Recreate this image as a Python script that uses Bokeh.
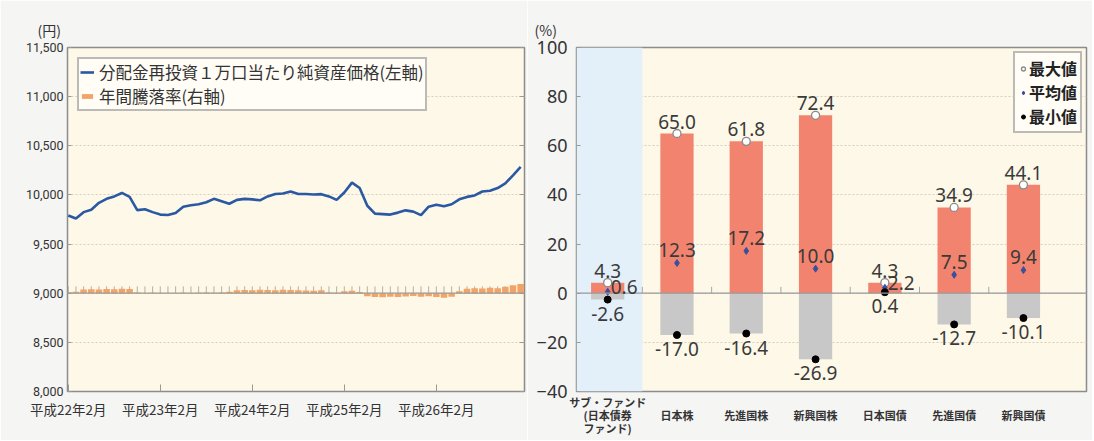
from bokeh.plotting import figure
from bokeh.models import (Range1d, LinearAxis, FixedTicker, Span, BoxAnnotation,
                          Legend, LegendItem, ColumnDataSource, LabelSet, NumeralTickFormatter)
from bokeh.layouts import row
from bokeh.embed import file_html
from bokeh.resources import INLINE
from bokeh.core.properties import value

# ---------------- data ----------------
months = list(range(60))
month_tick_labels = {0: "平成22年2月", 12: "平成23年2月", 24: "平成24年2月",
                     36: "平成25年2月", 48: "平成26年2月"}
nav = [9790, 9760, 9825, 9850, 9920, 9960, 9985, 10020, 9980, 9845,
       9855, 9825, 9800, 9795, 9815, 9880, 9895, 9905, 9925, 9960,
       9935, 9910, 9950, 9960, 9955, 9945, 9985, 10010, 10015, 10035,
       10010, 10010, 10005, 10008, 9985, 9950, 10025, 10125, 10070, 9890,
       9810, 9805, 9800, 9820, 9843, 9830, 9795, 9880, 9900, 9885,
       9905, 9955, 9980, 9995, 10035, 10043, 10070, 10117, 10200, 10285]
annual_ret = [0.4, 0.6, 1.5, 1.6, 1.5, 1.7, 1.6, 1.8, 1.7, 0.3,
              0.1, 0.2, 0.1, -0.1, 0.1, 0.2, 0.1, 0.2, 0.3, 0.2,
              0.3, 0.6, 1.2, 1.3, 1.2, 1.4, 1.3, 1.2, 1.4, 1.3,
              1.2, 1.1, 1.0, 1.2, 0.3, 0.2, 0.8, 1.0, 0.5, -1.2,
              -1.5, -1.6, -1.4, -1.5, -1.3, -1.1, -1.4, -1.2, -1.5, -1.8,
              -1.4, 0.8, 1.8, 2.0, 1.9, 2.2, 2.0, 2.6, 3.2, 3.8]
yen_ticks = [8000, 8500, 9000, 9500, 10000, 10500, 11000, 11500]
pct_ticks = [-40, -20, 0, 20, 40, 60, 80, 100]

# category names, one list per label line
categories = ["サブ・ファンド(日本債券ファンド)", "日本株", "先進国株", "新興国株",
              "日本国債", "先進国債", "新興国債"]
cat_line1 = ["サブ・ファンド", "", "", "", "", "", ""]
cat_line2 = ["(日本債券", "日本株", "先進国株", "新興国株", "日本国債", "先進国債", "新興国債"]
cat_line3 = ["ファンド)", "", "", "", "", "", ""]
max_vals = [4.3, 65.0, 61.8, 72.4, 4.3, 34.9, 44.1]
mean_vals = [0.6, 12.3, 17.2, 10.0, 2.2, 7.5, 9.4]
min_vals = [-2.6, -17.0, -16.4, -26.9, 0.4, -12.7, -10.1]

# ---------------- styles ----------------
BG = "#f5f5f3"
PLOT_BG = "#fdf8e7"
FRAME = "#8c8c8c"
GRID = "#d8cfbb"
TXT = "#333333"
JP = "Noto Sans CJK JP"
NUM = "Noto Sans"
H = 440
TOP = 47
BOTTOM = 49

# ---------------- left chart ----------------
p1 = figure(width=527, height=H, x_range=Range1d(-0.1, 59.5), y_range=Range1d(8000, 11500),
            output_backend="svg", toolbar_location=None,
            min_border_left=67, min_border_right=3, min_border_top=TOP, min_border_bottom=BOTTOM,
            background_fill_color=PLOT_BG, border_fill_color=BG,
            outline_line_color=FRAME, outline_line_width=1.5)
p1.extra_y_ranges = {"pct": Range1d(-40, 100)}
p1.xgrid.visible = False
p1.ygrid.ticker = FixedTicker(ticks=yen_ticks)
p1.ygrid.grid_line_color = GRID
p1.ygrid.grid_line_dash = "2 2"

p1.yaxis.ticker = FixedTicker(ticks=yen_ticks)
p1.yaxis.formatter = NumeralTickFormatter(format="0,0")
p1.yaxis.major_label_text_font = "Roboto"
p1.yaxis.major_label_text_font_size = "12.5px"
p1.yaxis.major_label_text_color = TXT
p1.yaxis.major_tick_in = 4
p1.yaxis.major_tick_out = 0
p1.yaxis.minor_tick_line_color = None
p1.yaxis.axis_line_color = None
p1.yaxis.major_tick_line_color = "#999999"
p1.yaxis.major_label_standoff = 4

p1.xaxis.ticker = FixedTicker(ticks=list(month_tick_labels.keys()))
p1.xaxis.major_label_overrides = month_tick_labels
p1.xaxis.major_label_text_font = JP
p1.xaxis.major_label_text_font_size = "13.5px"
p1.xaxis.major_label_text_color = TXT
p1.xaxis.major_tick_in = 7
p1.xaxis.major_tick_out = 0
p1.xaxis.major_tick_line_color = "#999999"
p1.xaxis.minor_tick_line_color = None
p1.xaxis.minor_tick_out = 0
p1.xaxis.axis_line_color = None
p1.xaxis.major_label_standoff = 7

rax = LinearAxis(y_range_name="pct", ticker=FixedTicker(ticks=pct_ticks),
                 major_label_overrides={t: "" for t in pct_ticks},
                 major_tick_in=5, major_tick_out=0, major_tick_line_color="#999999",
                 minor_tick_line_color=None, minor_tick_out=0,
                 axis_line_color=None, major_label_standoff=0)
p1.add_layout(rax, "right")

p1.add_layout(Span(location=0, dimension="width", y_range_name="pct",
                   line_color="#9a9a9a", line_width=1.3))
p1.segment(x0=months, x1=months, y0=[0] * len(months), y1=[2.8] * len(months),
           y_range_name="pct", line_color="#b8b0a0", line_width=1)
bars = p1.vbar(x=months, top=annual_ret, bottom=0, width=0.85, y_range_name="pct",
               fill_color="#f2a468", line_color=None)
nav_line = p1.line(months, nav, line_color="#2a58a2", line_width=2.6)

leg1 = Legend(items=[LegendItem(label="分配金再投資１万口当たり純資産価格(左軸)", renderers=[nav_line]),
                     LegendItem(label="年間騰落率(右軸)", renderers=[bars])],
              location="top_left", margin=10, padding=1, spacing=-3,
              label_text_font=JP, label_text_font_size="16.5px", label_text_color=TXT,
              label_height=18, glyph_height=6, glyph_width=14, label_standoff=5,
              border_line_color="#777777", border_line_width=2,
              background_fill_color="#fffdf6", background_fill_alpha=1)
p1.add_layout(leg1, "center")

p1.title.text = "(円)"
p1.title.align = "left"
p1.title.offset = -30
p1.title.text_font = JP
p1.title.text_font_size = "14px"
p1.title.text_font_style = "normal"
p1.title.text_color = TXT
p1.title.standoff = 16

# ---------------- right chart ----------------
xs = list(range(len(categories)))
p2 = figure(width=565, height=H, x_range=Range1d(-0.45, 6.91), y_range=Range1d(-40, 100),
            output_backend="svg", toolbar_location=None,
            min_border_left=49, min_border_right=6, min_border_top=TOP, min_border_bottom=BOTTOM,
            background_fill_color=PLOT_BG, border_fill_color=BG,
            outline_line_color=FRAME, outline_line_width=1.5)
p2.xgrid.visible = False
p2.add_layout(BoxAnnotation(right=0.5, fill_color="#e3f0fa", fill_alpha=1,
                            line_color=None, level="underlay"))
p2.ygrid.ticker = FixedTicker(ticks=pct_ticks)
p2.ygrid.grid_line_color = GRID
p2.ygrid.grid_line_dash = "2 2"
p2.ygrid.level = "underlay"

p2.yaxis.ticker = FixedTicker(ticks=pct_ticks)
p2.yaxis.major_label_text_font = NUM
p2.yaxis.major_label_text_font_size = "18px"
p2.yaxis.major_label_text_color = TXT
p2.yaxis.major_tick_in = 4
p2.yaxis.major_tick_out = 0
p2.yaxis.major_tick_line_color = "#999999"
p2.yaxis.minor_tick_line_color = None
p2.yaxis.minor_tick_out = 0
p2.yaxis.axis_line_color = None
p2.yaxis.major_label_standoff = 9


def style_cat_axis(ax, labels, standoff):
    ax.ticker = FixedTicker(ticks=xs)
    ax.major_label_overrides = {i: c for i, c in zip(xs, labels)}
    ax.major_label_text_font = JP
    ax.major_label_text_font_size = "11px"
    ax.major_label_text_color = TXT
    ax.major_label_text_font_style = "bold"
    ax.major_tick_line_color = None
    ax.major_tick_in = 0
    ax.major_tick_out = 0
    ax.minor_tick_line_color = None
    ax.minor_tick_in = 0
    ax.minor_tick_out = 0
    ax.axis_line_color = None
    ax.major_label_standoff = standoff


style_cat_axis(p2.xaxis[0], cat_line1, 2)
ax2 = LinearAxis()
style_cat_axis(ax2, cat_line2, -6)
p2.add_layout(ax2, "below")
ax3 = LinearAxis()
style_cat_axis(ax3, cat_line3, -6)
p2.add_layout(ax3, "below")

p2.title.text = "(%)"
p2.title.align = "left"
p2.title.offset = -42
p2.title.text_font = JP
p2.title.text_font_size = "14px"
p2.title.text_font_style = "normal"
p2.title.text_color = TXT
p2.title.standoff = 16

p2.add_layout(Span(location=0, dimension="width", line_color="#9a9a9a", line_width=1.3))
bounds = [i + 0.5 for i in xs[:-1]]
p2.segment(x0=bounds, x1=bounds, y0=[0] * len(bounds), y1=[2.6] * len(bounds),
           line_color="#a8a8a8", line_width=1)

p2.vbar(x=xs, top=0, bottom=min_vals, width=0.48, fill_color="#c8c8c8", line_color=None)
p2.vbar(x=xs, top=max_vals, bottom=0, width=0.48, fill_color="#f2846f", line_color=None)

r_max = p2.scatter(xs, max_vals, marker="circle", size=8, fill_color="white",
                   line_color="#8a8a8a", line_width=1.3)
r_mean = p2.scatter(xs, mean_vals, marker="diamond", size=7, fill_color="#3a4f9e",
                    line_color="#3a4f9e")
r_min = p2.scatter(xs, min_vals, marker="circle", size=7, fill_color="black", line_color="black")

src = ColumnDataSource(dict(x=xs, mx=max_vals, mn=min_vals,
                            mxt=[f"{v:.1f}" for v in max_vals],
                            mnt=[f"{v:.1f}" for v in min_vals]))
near = [i for i in xs if max_vals[i] - mean_vals[i] < 6]
far = [i for i in xs if i not in near]
src_far = ColumnDataSource(dict(x=far, y=[mean_vals[i] for i in far],
                                t=[f"{mean_vals[i]:.1f}" for i in far]))
src_near = ColumnDataSource(dict(x=near, y=[mean_vals[i] for i in near],
                                 t=[f"{mean_vals[i]:.1f}" for i in near]))
lbl_kw = dict(text_font=value(NUM), text_font_size=value("19px"), text_color=value("#3a3a3a"))
p2.add_layout(LabelSet(x="x", y="mx", text="mxt", source=src, text_align="center",
                       text_baseline="bottom", y_offset=5, **lbl_kw))
p2.add_layout(LabelSet(x="x", y="mn", text="mnt", source=src, text_align="center",
                       text_baseline="top", y_offset=-7, **lbl_kw))
p2.add_layout(LabelSet(x="x", y="y", text="t", source=src_far, text_align="center",
                       text_baseline="bottom", y_offset=6, **lbl_kw))
p2.add_layout(LabelSet(x="x", y="y", text="t", source=src_near, text_align="left",
                       text_baseline="middle", x_offset=3, y_offset=5, **lbl_kw))

leg2 = Legend(items=[LegendItem(label="最大値", renderers=[r_max]),
                     LegendItem(label="平均値", renderers=[r_mean]),
                     LegendItem(label="最小値", renderers=[r_min])],
              location="top_right", margin=4, padding=3, spacing=0,
              label_text_font=JP, label_text_font_size="16px", label_text_font_style="bold",
              label_text_color="#222222", label_height=21, glyph_height=21, glyph_width=10,
              label_standoff=1, border_line_color="#777777", border_line_width=2,
              background_fill_color="#fffdf6", background_fill_alpha=1)
p2.add_layout(leg2, "center")

layout = row(p1, p2)
open("out.html", "w").write(file_html(layout, INLINE))
